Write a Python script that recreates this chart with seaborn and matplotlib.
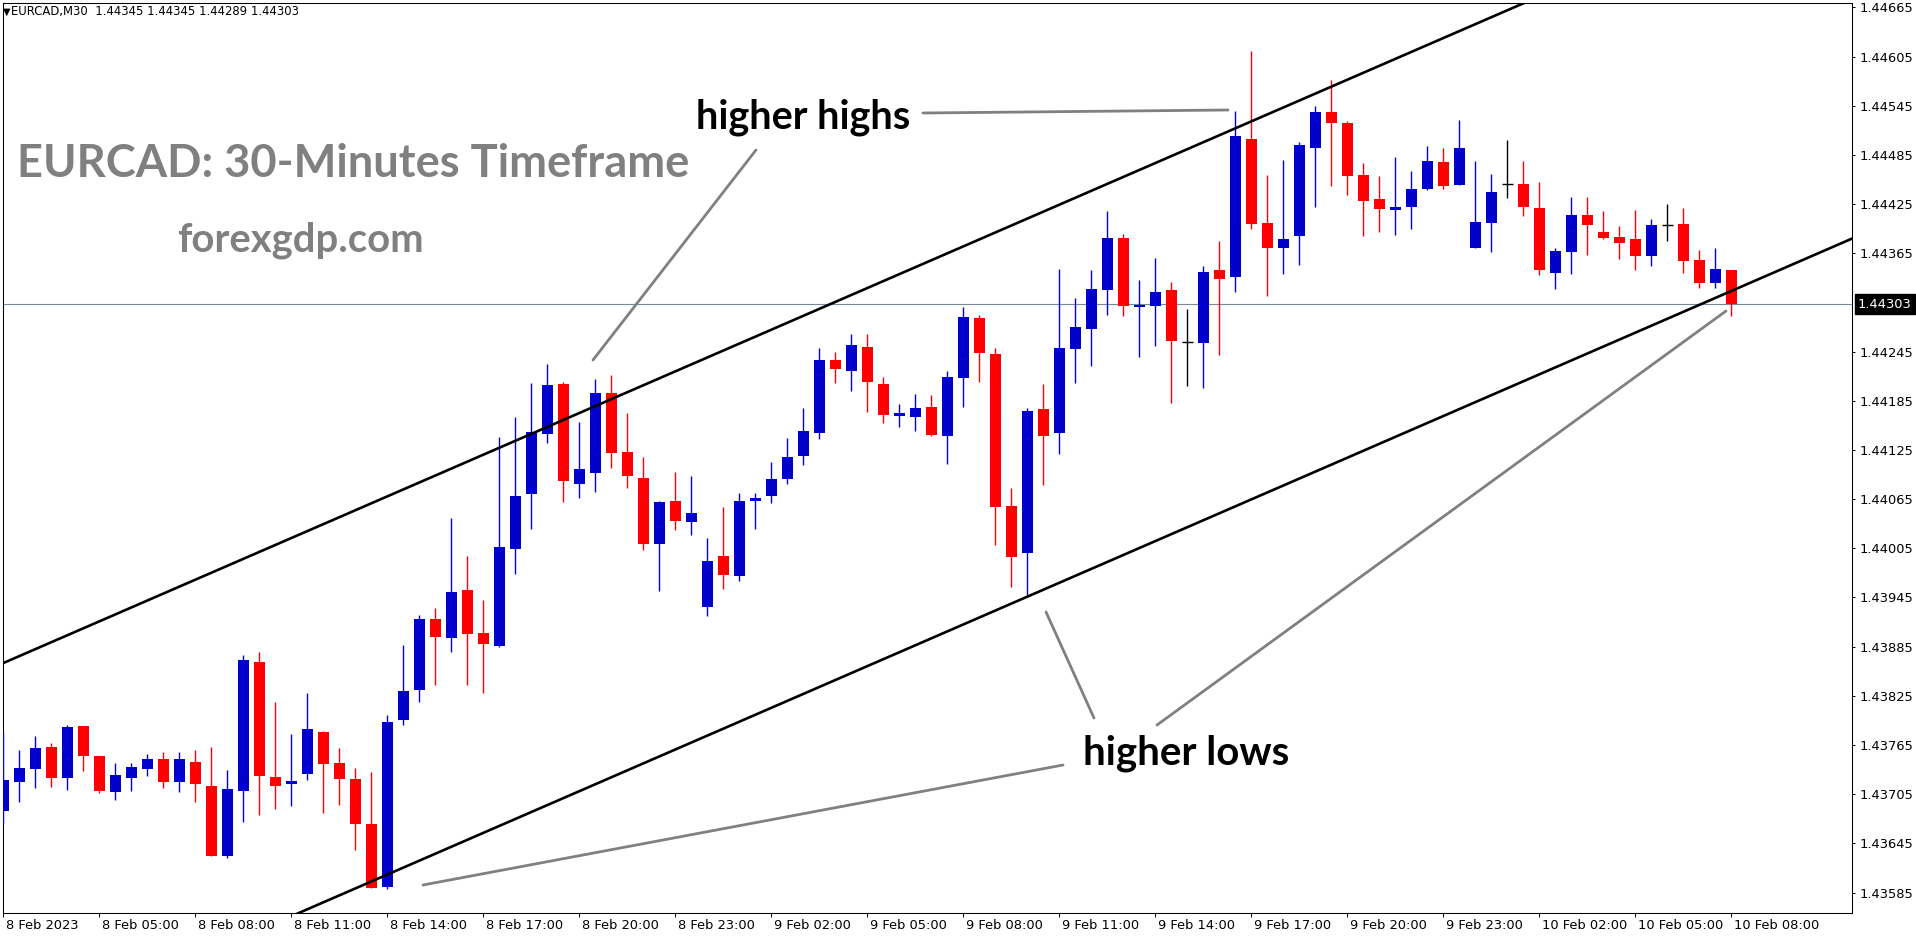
import numpy as np
import pandas as pd
import matplotlib
matplotlib.use("Agg")
import matplotlib.pyplot as plt
import matplotlib.transforms as mtransforms
from matplotlib.lines import Line2D
import seaborn as sns

W, H = 1916, 936

# EURCAD M30 candles, first bar = 8 Feb 02:00, last bar = 10 Feb 08:00
opens = [1.43685, 1.43720, 1.43736, 1.43762, 1.43725, 1.43788, 1.43751, 1.43708, 1.43725, 1.43736,
         1.43748, 1.43720, 1.43744, 1.43715, 1.43629, 1.43709, 1.43866, 1.43726, 1.43717, 1.43729,
         1.43781, 1.43743, 1.43724, 1.43669, 1.43592, 1.43795, 1.43832, 1.43919, 1.43896, 1.43954,
         1.43902, 1.43886, 1.44004, 1.44071, 1.44144, 1.44206, 1.44083, 1.44097, 1.44195, 1.44123,
         1.44091, 1.44010, 1.44063, 1.44037, 1.43933, 1.43996, 1.43971, 1.44063, 1.44069, 1.44089,
         1.44118, 1.44146, 1.44235, 1.44221, 1.44251, 1.44206, 1.44166, 1.44165, 1.44178, 1.44142,
         1.44213, 1.44286, 1.44242, 1.44057, 1.43999, 1.44175, 1.44146, 1.44248, 1.44273, 1.44320,
         1.44384, 1.44299, 1.44301, 1.44320, 1.44257, 1.44256, 1.44344, 1.44336, 1.44505, 1.44402,
         1.44372, 1.44386, 1.44494, 1.44537, 1.44524, 1.44461, 1.44431, 1.44418, 1.44422, 1.44444,
         1.44476, 1.44448, 1.44372, 1.44402, 1.44449, 1.44450, 1.44420, 1.44341, 1.44366, 1.44412,
         1.44391, 1.44385, 1.44382, 1.44362, 1.44400, 1.44401, 1.44357, 1.44329, 1.44345]
highs = [1.43781, 1.43759, 1.43776, 1.43767, 1.43789, 1.43788, 1.43751, 1.43743, 1.43743, 1.43754,
         1.43756, 1.43756, 1.43759, 1.43762, 1.43734, 1.43875, 1.43878, 1.43817, 1.43778, 1.43829,
         1.43782, 1.43761, 1.43737, 1.43732, 1.43801, 1.43887, 1.43924, 1.43932, 1.44042, 1.43996,
         1.43942, 1.44141, 1.44165, 1.44207, 1.44230, 1.44208, 1.44159, 1.44212, 1.44217, 1.44170,
         1.44117, 1.44063, 1.44098, 1.44093, 1.44018, 1.44055, 1.44073, 1.44072, 1.44110, 1.44140,
         1.44176, 1.44249, 1.44245, 1.44266, 1.44266, 1.44214, 1.44181, 1.44193, 1.44192, 1.44221,
         1.44299, 1.44290, 1.44249, 1.44078, 1.44176, 1.44205, 1.44346, 1.44311, 1.44344, 1.44416,
         1.44388, 1.44332, 1.44359, 1.44330, 1.44297, 1.44350, 1.44380, 1.44538, 1.44612, 1.44460,
         1.44479, 1.44501, 1.44545, 1.44576, 1.44527, 1.44475, 1.44459, 1.44482, 1.44465, 1.44496,
         1.44494, 1.44528, 1.44478, 1.44462, 1.44503, 1.44478, 1.44452, 1.44371, 1.44434, 1.44434,
         1.44417, 1.44398, 1.44418, 1.44407, 1.44425, 1.44420, 1.44369, 1.44371, 1.44345]
lows = [1.43670, 1.43695, 1.43713, 1.43714, 1.43710, 1.43733, 1.43706, 1.43698, 1.43709, 1.43727,
        1.43712, 1.43708, 1.43696, 1.43629, 1.43627, 1.43671, 1.43680, 1.43687, 1.43691, 1.43722,
        1.43682, 1.43692, 1.43637, 1.43590, 1.43589, 1.43790, 1.43817, 1.43838, 1.43879, 1.43838,
        1.43828, 1.43885, 1.43974, 1.44028, 1.44134, 1.44061, 1.44066, 1.44074, 1.44103, 1.44078,
        1.44003, 1.43953, 1.44027, 1.44021, 1.43922, 1.43955, 1.43965, 1.44028, 1.44060, 1.44084,
        1.44107, 1.44138, 1.44207, 1.44197, 1.44171, 1.44158, 1.44153, 1.44148, 1.44142, 1.44108,
        1.44177, 1.44208, 1.44009, 1.43958, 1.43948, 1.44082, 1.44120, 1.44207, 1.44227, 1.44290,
        1.44288, 1.44238, 1.44252, 1.44182, 1.44203, 1.44200, 1.44241, 1.44318, 1.44395, 1.44313,
        1.44340, 1.44351, 1.44422, 1.44447, 1.44436, 1.44386, 1.44391, 1.44387, 1.44395, 1.44442,
        1.44444, 1.44448, 1.44371, 1.44367, 1.44433, 1.44411, 1.44338, 1.44322, 1.44340, 1.44363,
        1.44383, 1.44358, 1.44344, 1.44350, 1.44380, 1.44341, 1.44323, 1.44323, 1.44289]
closes = [1.43722, 1.43737, 1.43761, 1.43725, 1.43787, 1.43751, 1.43709, 1.43728, 1.43738, 1.43748,
          1.43720, 1.43748, 1.43717, 1.43630, 1.43711, 1.43869, 1.43727, 1.43715, 1.43721, 1.43784,
          1.43742, 1.43724, 1.43668, 1.43591, 1.43793, 1.43831, 1.43919, 1.43897, 1.43952, 1.43901,
          1.43888, 1.44007, 1.44069, 1.44147, 1.44204, 1.44087, 1.44102, 1.44195, 1.44121, 1.44093,
          1.44010, 1.44062, 1.44038, 1.44048, 1.43989, 1.43972, 1.44063, 1.44066, 1.44090, 1.44117,
          1.44148, 1.44235, 1.44224, 1.44253, 1.44208, 1.44168, 1.44170, 1.44176, 1.44143, 1.44214,
          1.44287, 1.44243, 1.44055, 1.43994, 1.44172, 1.44142, 1.44249, 1.44275, 1.44321, 1.44384,
          1.44301, 1.44302, 1.44318, 1.44258, 1.44257, 1.44342, 1.44334, 1.44508, 1.44401, 1.44372,
          1.44383, 1.44497, 1.44537, 1.44524, 1.44459, 1.44429, 1.44419, 1.44422, 1.44444, 1.44477,
          1.44447, 1.44493, 1.44403, 1.44440, 1.44449, 1.44421, 1.44345, 1.44368, 1.44412, 1.44400,
          1.44384, 1.44378, 1.44362, 1.44399, 1.44400, 1.44356, 1.44329, 1.44346, 1.44303]

time_labels = ["8 Feb 2023", "8 Feb 05:00", "8 Feb 08:00", "8 Feb 11:00", "8 Feb 14:00",
               "8 Feb 17:00", "8 Feb 20:00", "8 Feb 23:00", "9 Feb 02:00", "9 Feb 05:00",
               "9 Feb 08:00", "9 Feb 11:00", "9 Feb 14:00", "9 Feb 17:00", "9 Feb 20:00",
               "9 Feb 23:00", "10 Feb 02:00", "10 Feb 05:00", "10 Feb 08:00"]
price_ticks = [1.44665, 1.44605, 1.44545, 1.44485, 1.44425, 1.44365, 1.44245, 1.44185,
               1.44125, 1.44065, 1.44005, 1.43945, 1.43885, 1.43825, 1.43765, 1.43705,
               1.43645, 1.43585]
current_price = 1.44303
header_text = "EURCAD,M30  1.44345 1.44345 1.44289 1.44303"

# channel lines: two anchor points each (bar index, price)
upper_x = [0, 95]
upper_y = [1.43865, 1.44670]
lower_x = [20, 108]
lower_y = [1.43573, 1.44319]

BULL = "#0000CC"
BEAR = "#FF0000"
SMALL = 9.4  # font size of the terminal's price / time scales

sns.set_style("white")
plt.rcParams['font.family'] = ['DejaVu Sans']

fig = plt.figure(figsize=(W / 100, H / 100), dpi=100)
ax = fig.add_axes([2.5 / W, 23 / H, 1849.5 / W, 910.5 / H])

df = pd.DataFrame({"open": opens, "high": highs, "low": lows, "close": closes})
df["bar"] = np.arange(len(df))
df["colour"] = np.where(df.close > df.open, BULL, np.where(df.close < df.open, BEAR, "black"))

# price line behind the candles
ax.axhline(current_price, color="#778899", lw=0.8, zorder=1)

# wicks and bodies
ax.vlines(df.bar, df.low, df.high, colors=df.colour, lw=1.0, zorder=3)
ax.bar(df.bar, df.close - df.open, bottom=df.open, width=0.68, color=df.colour,
       linewidth=0, zorder=4)
doji = df[df.close == df.open]
ax.hlines(doji.open, doji.bar - 0.34, doji.bar + 0.34, colors="black", lw=1.0, zorder=4)

# channel rays
for xs, ys in [(upper_x, upper_y), (lower_x, lower_y)]:
    slope = (ys[1] - ys[0]) / (xs[1] - xs[0])
    xx = np.array([-10.0, 130.0])
    sns.lineplot(x=xx, y=ys[0] + slope * (xx - xs[0]), color="black", lw=1.9, ax=ax,
                 zorder=5)

ax.set_xlim(-0.05, 115.54)
ax.set_ylim(1.43560, 1.44671)

# price scale on the right
ax.yaxis.tick_right()
ax.set_yticks(price_ticks)
ax.set_yticklabels([f"{p:.5f}" for p in price_ticks])
ax.tick_params(axis="y", direction="out", length=2.2, width=0.7, pad=3, labelsize=SMALL,
               colors="black", right=True, left=False)

# time scale
ax.set_xticks(np.arange(0, len(df), 6))
ax.set_xticklabels(time_labels)
ax.tick_params(axis="x", direction="out", length=3, width=0.7, pad=1.0, labelsize=SMALL,
               colors="black", bottom=True)
shift = mtransforms.ScaledTranslation(3 / 100, 0, fig.dpi_scale_trans)
for lab in ax.get_xticklabels():
    lab.set_horizontalalignment("left")
    lab.set_transform(lab.get_transform() + shift)

for sp in ax.spines.values():
    sp.set_color("black")
    sp.set_linewidth(0.75)
ax.set_xlabel("")
ax.set_ylabel("")

# current price tag
tag = mtransforms.blended_transform_factory(ax.transAxes, ax.transData)
tag = tag + mtransforms.ScaledTranslation(6 / 100, 0, fig.dpi_scale_trans)
ax.text(1.0, current_price, f"{current_price:.5f}", transform=tag, ha="left", va="center",
        color="white", fontsize=SMALL, clip_on=False,
        bbox=dict(boxstyle="square,pad=0.25", fc="black", ec="black"))

# header
fig.text(3 / W, 1 - 11.5 / H, "\u25BC", fontsize=7, va="center", ha="left", color="black")
fig.text(11 / W, 1 - 11.5 / H, header_text, fontsize=8.4, va="center", ha="left",
         color="black")

renderer = fig.canvas.get_renderer()


def fitted_text(s, x0, x1, baseline, colour):
    t = fig.text(x0 / W, 1 - baseline / H, s, fontsize=30, fontweight="bold", family="Lato",
                 color=colour, va="baseline", ha="left")
    bb = t.get_window_extent(renderer=renderer)
    t.set_fontsize(30 * (x1 - x0) / bb.width)
    return t


fitted_text("EURCAD: 30-Minutes Timeframe", 17, 690, 177, "#808080")
fitted_text("forexgdp.com", 177, 423, 252, "#808080")
fitted_text("higher highs", 696, 910, 129, "black")
fitted_text("higher lows", 1083, 1289, 765, "black")

# grey pointer lines (pixel positions)
pointers = [((923, 113), (1228, 110)),
            ((593, 360), (756, 150)),
            ((423, 885), (1063, 765)),
            ((1046, 612), (1094, 718)),
            ((1157, 725), (1726, 311))]
for (xa, ya), (xb, yb) in pointers:
    fig.add_artist(Line2D([xa / W, xb / W], [1 - ya / H, 1 - yb / H], color="#808080",
                          lw=2.0, transform=fig.transFigure, zorder=6))

fig.savefig("out.png", dpi=100)
